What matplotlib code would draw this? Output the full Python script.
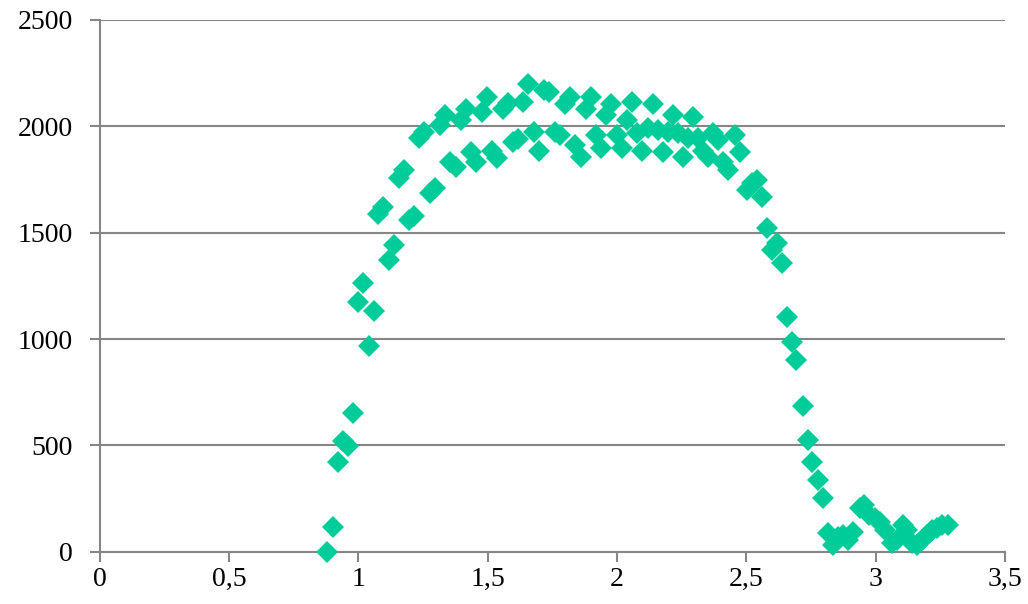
import matplotlib
matplotlib.use("Agg")
import matplotlib.pyplot as plt
from matplotlib.ticker import FuncFormatter

x_vals = [0.879, 0.902, 0.921, 0.940, 0.960, 0.979, 0.998, 1.018, 1.041, 1.061,
          1.076, 1.095, 1.118, 1.138, 1.157, 1.176, 1.196, 1.215, 1.234, 1.253,
          1.277, 1.296, 1.315, 1.335, 1.354, 1.377, 1.396, 1.416, 1.435, 1.454,
          1.478, 1.497, 1.516, 1.536, 1.559, 1.578, 1.597, 1.617, 1.636, 1.655,
          1.678, 1.698, 1.717, 1.736, 1.760, 1.779, 1.798, 1.818, 1.837, 1.860,
          1.879, 1.899, 1.918, 1.937, 1.957, 1.976, 1.999, 2.018, 2.038, 2.057,
          2.076, 2.096, 2.119, 2.138, 2.158, 2.177, 2.196, 2.216, 2.235, 2.254,
          2.274, 2.293, 2.312, 2.332, 2.351, 2.370, 2.390, 2.409, 2.428, 2.455,
          2.474, 2.501, 2.521, 2.540, 2.559, 2.579, 2.598, 2.617, 2.637, 2.656,
          2.675, 2.694, 2.718, 2.737, 2.756, 2.776, 2.795, 2.814, 2.834, 2.853,
          2.872, 2.892, 2.911, 2.938, 2.957, 2.976, 2.999, 3.018, 3.038, 3.065,
          3.084, 3.104, 3.123, 3.142, 3.161, 3.181, 3.200, 3.219, 3.239, 3.258,
          3.278]
y_vals = [0, 117, 422, 521, 497, 652, 1173, 1262, 966, 1130,
          1585, 1618, 1369, 1440, 1754, 1792, 1557, 1576, 1942, 1970,
          1684, 1707, 2003, 2050, 1829, 1806, 2026, 2082, 1876, 1829,
          2064, 2134, 1885, 1848, 2082, 2106, 1923, 1937, 2111, 2195,
          1970, 1885, 2167, 2162, 1970, 1956, 2101, 2134, 1909, 1853,
          2082, 2134, 1956, 1899, 2050, 2101, 1956, 1899, 2026, 2111,
          1965, 1885, 1989, 2101, 1979, 1876, 1970, 2050, 1965, 1853,
          1942, 2040, 1946, 1885, 1853, 1965, 1932, 1829, 1792, 1956,
          1876, 1698, 1731, 1745, 1665, 1520, 1416, 1449, 1355, 1102,
          985, 900, 685, 525, 422, 338, 253, 89, 33, 70,
          80, 56, 94, 206, 220, 174, 160, 141, 103, 42,
          56, 127, 103, 42, 33, 56, 80, 103, 113, 127,
          127]

x_ticks = [0, 0.5, 1, 1.5, 2, 2.5, 3, 3.5]
y_ticks = [0, 500, 1000, 1500, 2000, 2500]

plt.rcParams['font.family'] = ['Liberation Serif', 'DejaVu Serif']

fig = plt.figure(figsize=(10.28, 6.04), dpi=100)
ax = fig.add_axes([0.0968, 0.0861, 0.8808, 0.8816])

ax.plot(x_vals, y_vals, linestyle='none', marker='D', markersize=11.5,
        color='#00CC99', markeredgewidth=0, clip_on=False, zorder=3)

ax.set_xlim(0, 3.5)
ax.set_ylim(0, 2500)
ax.set_xticks(x_ticks)
ax.set_yticks(y_ticks)
ax.xaxis.set_major_formatter(FuncFormatter(lambda v, p: ('%g' % v).replace('.', ',')))
ax.yaxis.set_major_formatter(FuncFormatter(lambda v, p: '%d' % v))

grid_col = '#868686'
ax.grid(axis='y', color=grid_col, linewidth=1.5, zorder=1)
ax.set_axisbelow(True)
for s in ['top', 'right']:
    ax.spines[s].set_visible(False)
for s in ['left', 'bottom']:
    ax.spines[s].set_color(grid_col)
    ax.spines[s].set_linewidth(1.5)
ax.tick_params(axis='both', direction='out', length=7, width=1.5, color=grid_col,
               labelsize=20, labelcolor='black')
ax.tick_params(axis='x', pad=4)
ax.tick_params(axis='y', pad=12)

fig.savefig('out.png', dpi=100)
